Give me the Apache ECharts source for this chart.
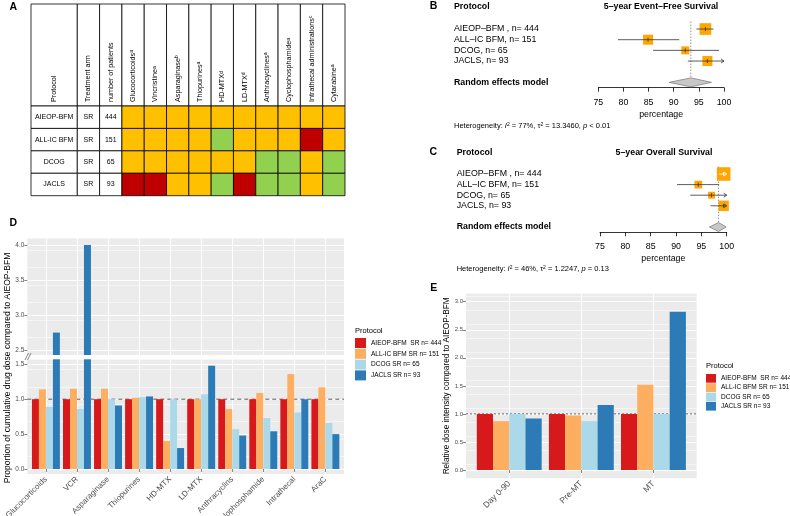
<!DOCTYPE html>
<html>
<head>
<meta charset="utf-8">
<script src="https://cdn.jsdelivr.net/npm/echarts@6/dist/echarts.min.js"></script>
<style>
html, body { margin: 0; padding: 0; background: #fff; }
#chart { width: 790px; height: 516px; }
</style>
</head>
<body>
<div id="chart"></div>
<script>
const FONT = "Liberation Sans";

// A: protocol comparison table
const tableProtocols = ["AIEOP-BFM", "ALL-IC BFM", "DCOG", "JACLS"];
const tableArms = ["SR", "SR", "SR", "SR"];
const tablePatients = [444, 151, 65, 93];
const tableDrugs = ["Glucocorticoids", "Vincristine", "Asparaginase", "Thiopurines", "HD-MTX",
    "LD-MTX", "Anthracyclines", "Cyclophosphamide", "Intrathecal administrations", "Cytarabine"];
const tableNotes = ["a", "a", "b", "a", "d", "d", "a", "a", "c", "a"];
// O = orange, G = green, R = red
const tableGrades = [
    ["O", "O", "O", "O", "O", "O", "O", "O", "O", "O"],
    ["O", "O", "O", "O", "G", "O", "O", "O", "R", "O"],
    ["O", "O", "O", "O", "O", "O", "G", "G", "O", "G"],
    ["R", "R", "O", "O", "G", "R", "G", "G", "O", "G"]
];

// B, C: forest plots
const forestStudies = ["AIEOP\u2013BFM , n= 444", "ALL\u2013IC BFM, n= 151", "DCOG, n= 65", "JACLS, n= 93"];
const pooledLabel = "Random effects model";
const efsEstimate = [96.3, 84.9, 92.3, 96.7];
const efsLower = [94.5, 78.9, 85.9, 92.8];
const efsUpper = [97.9, 91.1, 99.0, 100.6];
const efsWeight = [34, 25, 16, 25];
const efsPooled = [89.1, 93.4, 97.5];
const osEstimate = [99.4, 94.4, 97.0, 99.4];
const osLower = [98.5, 90.2, 92.8, 96.8];
const osUpper = [100.5, 98.5, 100.6, 100.5];
const osWeight = [46, 15, 12, 27];
const osPooled = [96.6, 98.4, 99.9];

// D: cumulative drug dose vs AIEOP-BFM
const doseDrugs = ["Glucocorticoids", "VCR", "Asparaginase", "Thiopurines", "HD-MTX",
    "LD-MTX", "Anthracyclins", "Cyclophosphamide", "Intrathecal", "AraC"];
const doseAieop = [1, 1, 1, 1, 1, 1, 1, 1, 1, 1];
const doseAllic = [1.14, 1.15, 1.15, 1.02, 0.40, 1.00, 0.86, 1.09, 1.36, 1.17];
const doseDcog = [0.89, 0.86, 1.00, 1.03, 1.00, 1.07, 0.57, 0.73, 0.81, 0.66];
const doseJacls = [2.75, 4.00, 0.91, 1.04, 0.30, 1.48, 0.48, 0.54, 1.00, 0.50];

// E: relative dose intensity
const phases = ["Day 0-90", "Pre-MT", "MT"];
const intensityAieop = [1, 1, 1];
const intensityAllic = [0.87, 0.97, 1.52];
const intensityDcog = [1.00, 0.87, 1.00];
const intensityJacls = [0.92, 1.16, 2.82];

const protocolNames = ["AIEOP-BFM  SR n= 444", "ALL-IC BFM SR n= 151", "DCOG SR n= 65", "JACLS SR n= 93"];
const protocolColors = ["#D7191C", "#FDAE61", "#ABD9E9", "#2C7BB6"];
const gradeColors = { O: "#FFC000", G: "#92D050", R: "#C00000" };

const chart = echarts.init(document.getElementById("chart"));

function cellRect(api, fill) {
    const c = api.coord([api.value(0), api.value(1)]);
    const s = api.size([1, 1]);
    return {
        type: "rect",
        shape: { x: c[0] - s[0] / 2, y: c[1] - s[1] / 2, width: s[0], height: s[1] },
        style: { fill: fill, stroke: "#000", lineWidth: 0.8 }
    };
}

function cellText(api, text) {
    const c = api.coord([api.value(0), api.value(1)]);
    return {
        type: "text", x: c[0], y: c[1],
        style: { text: String(text), align: "center", verticalAlign: "middle", fontSize: 7, fontFamily: FONT, fill: "#000" }
    };
}

// header cell: white box with the column name written upwards from the bottom
function headerCell(api, label) {
    const c = api.coord([api.value(0), api.value(1)]);
    const s = api.size([1, 1]);
    return {
        type: "group",
        children: [
            cellRect(api, "#fff"),
            {
                type: "text", x: c[0], y: c[1] + s[1] / 2 - 4, rotation: Math.PI / 2,
                style: {
                    text: label, align: "left", verticalAlign: "middle",
                    fontSize: 7.2, fontFamily: FONT, fill: "#000",
                    rich: { s: { fontSize: 5, verticalAlign: "top", fontFamily: FONT, fill: "#000" } }
                }
            }
        ]
    };
}

function studyRenderer(est, low, up, weight) {
    return function (params, api) {
        const i = params.dataIndex;
        const row = api.value(1);
        const c = api.coord([est[i], row]);
        const a = api.coord([low[i], row]);
        const capped = up[i] > 100;
        const b = api.coord([capped ? 100 : up[i], row]);
        const half = Math.sqrt(weight[i]);
        const inside = a[0] >= c[0] - half && b[0] <= c[0] + half;
        const ink = inside ? "#fff" : "#333";
        const children = [
            { type: "rect", shape: { x: c[0] - half, y: c[1] - half, width: half * 2, height: half * 2 }, style: { fill: "#FFA500" } },
            { type: "line", shape: { x1: a[0], y1: c[1], x2: b[0], y2: c[1] }, style: { stroke: ink, lineWidth: 0.8 } },
            { type: "line", shape: { x1: c[0], y1: c[1] - 2, x2: c[0], y2: c[1] + 2 }, style: { stroke: ink, lineWidth: 0.8 } }
        ];
        if (capped) {
            children.push({
                type: "polyline",
                shape: { points: [[b[0] - 3, c[1] - 2], [b[0], c[1]], [b[0] - 3, c[1] + 2]] },
                style: { stroke: ink, fill: null, lineWidth: 0.8 }
            });
        }
        return { type: "group", children: children };
    };
}

function diamondRenderer(pooled) {
    return function (params, api) {
        const row = api.value(1);
        const lo = api.coord([pooled[0], row]);
        const mid = api.coord([pooled[1], row]);
        const hi = api.coord([pooled[2], row]);
        const band = api.size([0, 1])[1];
        const top = api.coord([pooled[1], 0]);
        const h = band * 0.42;
        return {
            type: "group",
            children: [
                { type: "line", shape: { x1: mid[0], y1: top[1] - band * 0.7, x2: mid[0], y2: mid[1] + band * 0.45 },
                  style: { stroke: "#777", lineWidth: 0.8, lineDash: [1.5, 1.5] } },
                { type: "polygon", shape: { points: [[lo[0], mid[1]], [mid[0], mid[1] - h], [hi[0], mid[1]], [mid[0], mid[1] + h]] },
                  style: { fill: "#C8C8C8", stroke: "#808080", lineWidth: 0.8 } }
            ]
        };
    };
}

// horizontal reference line across a whole panel at the given y value
function refLine(color, dash, width) {
    return function (params, api) {
        const y = api.coord([0, api.value(1)])[1];
        const cs = params.coordSys;
        return {
            type: "line",
            shape: { x1: cs.x, y1: y, x2: cs.x + cs.width, y2: y },
            style: { stroke: color, lineDash: dash, lineWidth: width }
        };
    };
}

const headerCols = ["Treatment arm", "number of patients"].concat(tableDrugs);
const headerText = headerCols.map((c, i) => i < 2 ? c : c + "{s|" + tableNotes[i - 2] + "}");
const forestRows = forestStudies.concat(["", pooledLabel]);

function forestX(gridIndex) {
    return {
        type: "value", gridIndex: gridIndex, min: 75, max: 100, interval: 5,
        axisLine: { show: true, lineStyle: { color: "#000", width: 0.8 } },
        axisTick: { show: true, length: 4, lineStyle: { color: "#000", width: 0.8 } },
        axisLabel: { fontSize: 8.8, color: "#000", margin: 10 },
        splitLine: { show: false },
        name: "percentage", nameLocation: "middle", nameGap: 22,
        nameTextStyle: { fontSize: 8.8, color: "#000" }
    };
}

function forestY(gridIndex, margin) {
    return {
        type: "category", gridIndex: gridIndex, data: forestRows, inverse: true,
        axisLine: { show: false }, axisTick: { show: false },
        axisLabel: {
            align: "left", margin: margin, fontSize: 8.8, color: "#000", interval: 0,
            formatter: v => v === pooledLabel ? "{b|" + v + "}" : v,
            rich: { b: { fontWeight: "bold", fontSize: 8.8, color: "#000" } }
        }
    };
}

function ggCatX(gridIndex, data, labels, labelSize) {
    return {
        type: "category", gridIndex: gridIndex, data: data,
        axisLine: { show: false },
        axisTick: { show: labels, alignWithLabel: true, length: 3, lineStyle: { color: "#333", width: 0.6 } },
        axisLabel: { show: labels, rotate: 45, interval: 0, fontSize: labelSize, color: "#4D4D4D", margin: 4 },
        splitLine: { show: true, alignWithLabel: true, interval: 0, lineStyle: { color: "#fff", width: 1 } }
    };
}

function ggValY(gridIndex, min, max, labels, labelSize) {
    return {
        type: "value", gridIndex: gridIndex, min: min, max: max, interval: 0.5,
        axisLine: { show: false },
        axisTick: { show: true, length: 3, customValues: labels, lineStyle: { color: "#333", width: 0.6 } },
        axisLabel: {
            fontSize: labelSize, color: "#4D4D4D", margin: 3, customValues: labels,
            formatter: v => v.toFixed(1)
        },
        splitLine: { show: true, lineStyle: { color: "#fff", width: 1 } }
    };
}

function ggMinorY(gridIndex, min, max) {
    return {
        type: "value", gridIndex: gridIndex, min: min, max: max, interval: 0.25, position: "left",
        axisLine: { show: false }, axisTick: { show: false }, axisLabel: { show: false },
        splitLine: { show: true, lineStyle: { color: "#fff", width: 0.5 } }
    };
}

function hiddenVal(gridIndex, min, max) {
    return { type: "value", gridIndex: gridIndex, min: min, max: max, show: false };
}

const series = [];

// table
series.push({
    type: "custom", xAxisIndex: 0, yAxisIndex: 0, data: [[0, 0]],
    renderItem: (p, api) => headerCell(api, "Protocol")
});
series.push({
    type: "custom", xAxisIndex: 1, yAxisIndex: 1, data: headerCols.map((c, i) => [i, 0]),
    renderItem: (p, api) => headerCell(api, headerText[api.value(0)])
});
series.push({
    type: "custom", xAxisIndex: 2, yAxisIndex: 2, data: tableProtocols.map((p, r) => [0, r]),
    renderItem: (p, api) => ({ type: "group", children: [cellRect(api, "#fff"), cellText(api, tableProtocols[api.value(1)])] })
});
const bodyCells = [];
tableProtocols.forEach((p, r) => {
    headerCols.forEach((c, k) => bodyCells.push([k, r]));
});
series.push({
    type: "custom", xAxisIndex: 3, yAxisIndex: 3, data: bodyCells,
    renderItem: function (p, api) {
        const col = api.value(0), row = api.value(1);
        if (col === 0) return { type: "group", children: [cellRect(api, "#fff"), cellText(api, tableArms[row])] };
        if (col === 1) return { type: "group", children: [cellRect(api, "#fff"), cellText(api, tablePatients[row])] };
        return cellRect(api, gradeColors[tableGrades[row][col - 2]]);
    }
});

// forest plots
series.push({
    type: "custom", xAxisIndex: 4, yAxisIndex: 4, clip: false,
    data: [[efsPooled[1], forestRows.length - 1]], renderItem: diamondRenderer(efsPooled)
});
series.push({
    type: "custom", xAxisIndex: 4, yAxisIndex: 4, clip: false,
    data: efsEstimate.map((v, i) => [v, i]), renderItem: studyRenderer(efsEstimate, efsLower, efsUpper, efsWeight)
});
series.push({
    type: "custom", xAxisIndex: 5, yAxisIndex: 5, clip: false,
    data: [[osPooled[1], forestRows.length - 1]], renderItem: diamondRenderer(osPooled)
});
series.push({
    type: "custom", xAxisIndex: 5, yAxisIndex: 5, clip: false,
    data: osEstimate.map((v, i) => [v, i]), renderItem: studyRenderer(osEstimate, osLower, osUpper, osWeight)
});

// D: broken-axis bars (upper and lower data grids)
const doseSets = [doseAieop, doseAllic, doseDcog, doseJacls];
[[9, 12], [10, 13]].forEach(([xi, yi]) => {
    doseSets.forEach((vals, k) => {
        series.push({
            type: "bar", name: protocolNames[k], xAxisIndex: xi, yAxisIndex: yi, data: vals,
            barGap: "0%", barCategoryGap: "10%", clip: true, silent: true,
            itemStyle: { color: protocolColors[k] }
        });
    });
});

// E
const intensitySets = [intensityAieop, intensityAllic, intensityDcog, intensityJacls];
intensitySets.forEach((vals, k) => {
    series.push({
        type: "bar", name: protocolNames[k], xAxisIndex: 11, yAxisIndex: 14, data: vals,
        barGap: "0%", barCategoryGap: "10%", clip: true, silent: true,
        itemStyle: { color: protocolColors[k] }
    });
});

// reference lines at 1.0, drawn over the bars across the full panels
series.push({ type: "custom", xAxisIndex: 7, yAxisIndex: 8, clip: false, silent: true, data: [[0, 1]], renderItem: refLine("#333", [4, 3], 0.8) });
series.push({ type: "custom", xAxisIndex: 8, yAxisIndex: 10, clip: false, silent: true, data: [[0, 1]], renderItem: refLine("#666", [2, 2], 1) });

function txt(text, x, y, size, extra) {
    return {
        type: "text", x: x, y: y, z: 50,
        style: Object.assign({
            text: text, fontSize: size, fontFamily: FONT, fill: "#000",
            align: "left", verticalAlign: "middle"
        }, extra || {})
    };
}

const heteroRich = {
    i: { fontStyle: "italic", fontSize: 7.5, fontFamily: FONT },
    s: { fontSize: 5, verticalAlign: "top", fontFamily: FONT }
};

const noBounds = { outerBoundsMode: "none" };
const ggPanel = { show: true, backgroundColor: "#EBEBEB", borderWidth: 0 };

chart.setOption({
    animation: false,
    textStyle: { fontFamily: FONT },
    grid: [
        Object.assign({ left: 31, top: 4, width: 46.3, height: 102 }, noBounds),
        Object.assign({ left: 77.3, top: 4, width: 267.7, height: 102 }, noBounds),
        Object.assign({ left: 31, top: 106, width: 46.3, height: 89.7 }, noBounds),
        Object.assign({ left: 77.3, top: 106, width: 267.7, height: 89.7 }, noBounds),
        Object.assign({ left: 598.3, top: 23.7, width: 125.7, height: 64 }, noBounds),
        Object.assign({ left: 600, top: 168.7, width: 126.7, height: 63.6 }, noBounds),
        // panel backgrounds (full width, carry the y axes)
        Object.assign({ left: 27.3, top: 238, width: 316.7, height: 117 }, ggPanel, noBounds),
        Object.assign({ left: 27.3, top: 359.3, width: 316.7, height: 114.7 }, ggPanel, noBounds),
        Object.assign({ left: 466, top: 293.3, width: 230.7, height: 185.1 }, ggPanel, noBounds),
        // data areas (discrete axes keep 0.6 of a step free at both ends)
        Object.assign({ left: 30.4, top: 238, width: 310.5, height: 117 }, noBounds),
        Object.assign({ left: 30.4, top: 359.3, width: 310.5, height: 114.7 }, noBounds),
        Object.assign({ left: 473.2, top: 293.3, width: 216.3, height: 185.1 }, noBounds)
    ],
    xAxis: [
        { type: "category", gridIndex: 0, data: ["Protocol"], show: false },
        { type: "category", gridIndex: 1, data: headerCols, show: false },
        { type: "category", gridIndex: 2, data: ["Protocol"], show: false },
        { type: "category", gridIndex: 3, data: headerCols, show: false },
        forestX(4),
        forestX(5),
        hiddenVal(6, 0, 1),
        hiddenVal(7, 0, 1),
        hiddenVal(8, 0, 1),
        ggCatX(9, doseDrugs, false, 8),
        ggCatX(10, doseDrugs, true, 8),
        ggCatX(11, phases, true, 8.5)
    ],
    yAxis: [
        { type: "category", gridIndex: 0, data: ["h"], show: false },
        { type: "category", gridIndex: 1, data: ["h"], show: false },
        { type: "category", gridIndex: 2, data: tableProtocols, inverse: true, show: false },
        { type: "category", gridIndex: 3, data: tableProtocols, inverse: true, show: false },
        forestY(4, 144.3),
        forestY(5, 143.3),
        ggValY(6, 2.43, 4.1, [2.5, 3, 3.5, 4], 6.5),
        ggMinorY(6, 2.43, 4.1),
        ggValY(7, -0.072, 1.572, [0, 0.5, 1, 1.5], 6.5),
        ggMinorY(7, -0.072, 1.572),
        Object.assign(ggValY(8, -0.15, 3.15, [0, 0.5, 1, 1.5, 2, 2.5, 3], 6), {
            name: "Relative dose intensity compared to AIEOP-BFM", nameLocation: "middle", nameGap: 14,
            nameTextStyle: { fontSize: 8.2, color: "#000" }
        }),
        ggMinorY(8, -0.15, 3.15),
        hiddenVal(9, 2.43, 4.1),
        hiddenVal(10, -0.072, 1.572),
        hiddenVal(11, -0.15, 3.15)
    ],
    legend: [
        {
            left: 355, top: 338, padding: 0, orient: "vertical", icon: "rect", selectedMode: false,
            itemWidth: 11, itemHeight: 10, itemGap: 0.8, data: protocolNames,
            textStyle: { fontSize: 6.5, color: "#000", fontFamily: FONT }
        },
        {
            left: 706, top: 374, padding: 0, orient: "vertical", icon: "rect", selectedMode: false,
            itemWidth: 10, itemHeight: 8.7, itemGap: 0.6, data: protocolNames,
            textStyle: { fontSize: 6.5, color: "#000", fontFamily: FONT }
        }
    ],
    graphic: [
        txt("A", 13.3, 6.7, 10.5, { fontWeight: "bold", align: "center" }),
        txt("B", 433.5, 6.3, 10.5, { fontWeight: "bold", align: "center" }),
        txt("C", 433.3, 152, 10.5, { fontWeight: "bold", align: "center" }),
        txt("D", 13.3, 223, 10.5, { fontWeight: "bold", align: "center" }),
        txt("E", 433.7, 288, 10.5, { fontWeight: "bold", align: "center" }),
        txt("Protocol", 454, 7, 8.8, { fontWeight: "bold" }),
        txt("5\u2013year Event\u2013Free Survival", 661, 7, 8.8, { fontWeight: "bold", align: "center" }),
        txt("Protocol", 456.7, 152.3, 8.8, { fontWeight: "bold" }),
        txt("5\u2013year Overall Survival", 664, 152.3, 8.8, { fontWeight: "bold", align: "center" }),
        txt("Heterogeneity: {i|I}{s|2} = 77%, \u03c4{s|2} = 13.3460, {i|p} < 0.01", 454, 126, 7.5, { rich: heteroRich }),
        txt("Heterogeneity: {i|I}{s|2} = 46%, \u03c4{s|2} = 1.2247, {i|p} = 0.13", 456.7, 269.3, 7.5, { rich: heteroRich }),
        Object.assign(txt("Proportion of cumulative drug dose compared to AIEOP-BFM", 8, 368, 8.5, { align: "center" }), { rotation: Math.PI / 2 }),
        txt("Protocol", 355, 330.7, 7.5),
        txt("Protocol", 706, 366, 7.5),
        { type: "polyline", z: 50, shape: { points: [[25, 360], [28.5, 353]] }, style: { stroke: "#555", lineWidth: 0.7, fill: null } },
        { type: "polyline", z: 50, shape: { points: [[27.5, 360], [31, 353]] }, style: { stroke: "#555", lineWidth: 0.7, fill: null } }
    ],
    series: series
});
</script>
</body>
</html>
